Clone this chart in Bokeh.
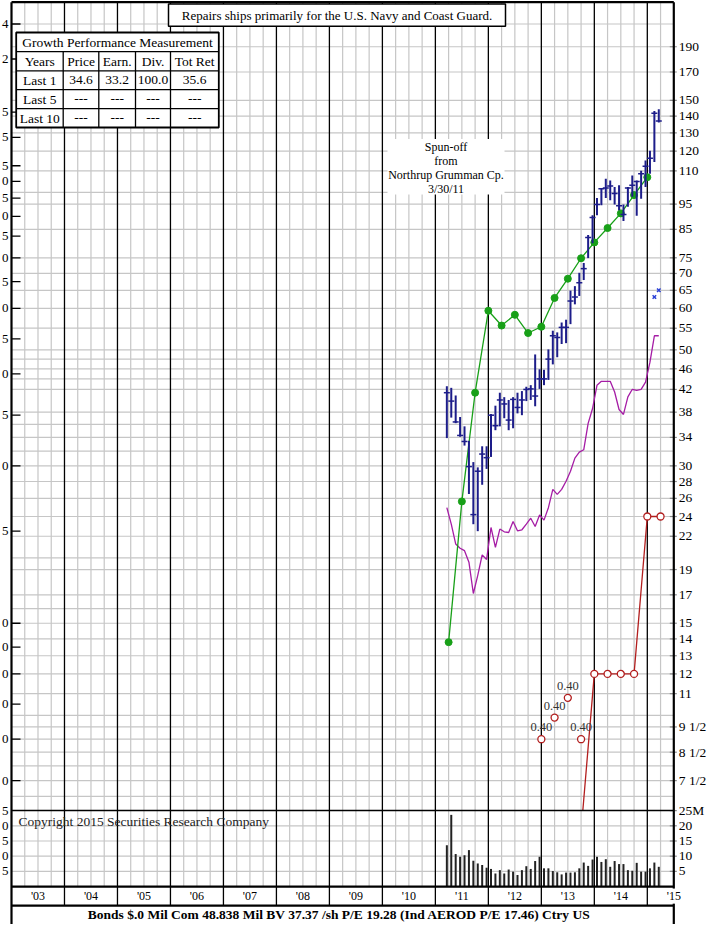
import numpy as np
from bokeh.plotting import figure
from bokeh.models import Range1d, LinearScale
from bokeh.core.properties import value
from bokeh.embed import file_html
from bokeh.resources import INLINE

FONT = "Liberation Serif"

# ---------------- data ----------------
months = [f"{y}-{m:02d}" for y in range(2011, 2016) for m in range(1, 13)][3:52]   # 2011-04 .. 2015-04

bar_high = [42.6, 42.3, 40.9, 37.2, 35.7, 33.5, 30.5, 29.8, 32.7, 32.7, 37.7, 39.1, 41.4, 40.6, 40.1,
            40.6, 41.4, 41.7, 42.5, 42.8, 49.0, 45.9, 45.8, 50.1, 54.4, 54.0, 56.4, 57.1, 64.9, 66.2,
            70.2, 73.3, 82.9, 90.5, 97.6, 102.0, 106.2, 105.4, 102.4, 103.2, 94.8, 102.4, 107.8,
            105.4, 110.1, 115.1, 120.2, 143.1, 144.2]
bar_low = [33.9, 37.1, 36.2, 34.1, 32.8, 26.5, 23.2, 22.5, 27.6, 29.6, 31.2, 35.1, 35.7, 37.0, 35.1,
           35.4, 37.8, 37.5, 39.9, 40.1, 39.0, 42.1, 42.8, 43.8, 46.9, 48.4, 51.3, 51.5, 56.0, 61.1,
           63.4, 68.0, 74.9, 80.0, 90.5, 94.5, 97.6, 96.6, 94.8, 92.5, 88.2, 93.9, 98.1, 90.3, 97.3,
           102.4, 108.6, 114.3, 136.1]
bar_close = [41.4, 39.9, 36.4, 34.3, 33.4, 29.9, 24.2, 29.3, 31.6, 31.1, 37.5, 35.8, 40.1, 39.4, 36.7,
             40.2, 38.8, 40.1, 42.0, 42.1, 40.8, 44.0, 44.0, 48.0, 53.2, 52.8, 55.2, 55.2, 62.0, 63.1,
             67.2, 71.5, 82.0, 89.6, 94.8, 101.7, 102.0, 102.9, 99.5, 94.3, 90.8, 102.0, 103.2, 105.0,
             108.6, 112.3, 116.3, 141.7, 137.0]
rel_strength = [24.95, 23.21, 21.27, 20.87, 20.65, 19.63, 17.10, 18.52, 20.27, 19.86, 22.87, 20.95,
                22.71, 22.44, 22.37, 23.48, 22.54, 22.64, 23.21, 23.82, 22.97, 24.17, 23.62, 24.95,
                27.05, 26.45, 27.05, 28.04, 29.29, 31.04, 31.86, 32.20, 36.17, 38.62, 42.77, 43.53,
                43.53, 43.53, 41.53, 38.45, 37.62, 40.64, 42.03, 41.85, 42.03, 43.38, 47.35, 53.2, 53.2]
volume_m = [13.6, 23.6, 10.7, 9.8, 10.3, 12.0, 8.5, 7.6, 7.1, 6.2, 5.8, 4.3, 5.4, 4.3, 5.6, 4.9, 3.8,
            5.4, 6.7, 5.8, 8.4, 9.8, 6.0, 6.0, 5.1, 4.7, 4.0, 4.6, 4.6, 4.7, 6.0, 7.9, 6.8, 8.9, 9.8,
            8.1, 9.0, 6.5, 8.4, 7.4, 7.4, 5.4, 5.2, 7.8, 4.9, 4.9, 6.0, 7.9, 6.5]

eps_quarters = [f"{y}Q{q}" for y in range(2011, 2015) for q in range(1, 5)]
earnings = [0.92, 1.71, 2.76, 3.96, 3.71, 3.89, 3.59, 3.69, 4.19, 4.56, 4.99, 5.35, 5.70, 6.08, 6.59, 7.13]

div_x = [2013.75, 2014.0, 2014.25, 2014.5, 2014.75, 2015.0, 2015.25]
div_rate = [0.40, 0.80, 0.80, 0.80, 0.80, 1.60, 1.60]
div_note_x = [2013.0, 2013.25, 2013.5, 2013.75]
div_note_y = [0.60, 0.66, 0.72, 0.60]
div_note_text = ["0.40", "0.40", "0.40", "0.40"]

xmark_months = ["2015-03", "2015-04"]
xmark_vals = [63.1, 65.0]

right_ticks = [190, 170, 150, 140, 130, 120, 110, 95, 85, 75, 70, 65, 60, 55, 50, 46, 42, 38, 34, 30,
               28, 26, 24, 22, 19, 17, 15, 14, 13, 12, 11, 9.5, 8.5, 7.5]
right_labels = ["190", "170", "150", "140", "130", "120", "110", "95", "85", "75", "70", "65", "60",
                "55", "50", "46", "42", "38", "34", "30", "28", "26", "24", "22", "19", "17", "15",
                "14", "13", "12", "11", "9 1/2", "8 1/2", "7 1/2"]
price_grid = [7, 7.5, 8, 8.5, 9, 9.5, 10, 11, 12, 13, 14, 15, 16, 17, 19, 20, 22, 24, 26, 28, 30, 32,
              34, 36, 38, 42, 44, 46, 48, 50, 55, 60, 65, 70, 75, 85, 95, 100, 110, 120, 130, 140,
              150, 170, 190, 210]
left_ticks = [14, 12, 9.5, 8.5, 7.5, 7.0, 6.5, 6.0, 5.5, 5.0, 4.5, 4.0, 3.5, 3.0, 2.5, 2.0, 1.5, 1.0,
              0.9, 0.8, 0.7, 0.6, 0.5]
left_labels = ["14", "12", "9.5", "8.5", "7.5", "7.0", "6.5", "6.0", "5.5", "5.0", "4.5", "4.0", "3.5",
               "3.0", "2.5", "2.0", "1.5", "1.0", ".90", ".80", ".70", ".60", ".50"]
vol_ticks = [25, 20, 15, 10, 5]
vol_right_labels = ["25M", "20", "15", "10", "5"]
vol_left_labels = ["25", "20", "15", "10", "5"]
year_labels = ["'03", "'04", "'05", "'06", "'07", "'08", "'09", "'10", "'11", "'12", "'13", "'14"]

title_text = "Repairs ships primarily for the U.S. Navy and Coast Guard."
table_title = "Growth Performance Measurement"
table_rows = [["Years", "Price", "Earn.", "Div.", "Tot Ret"],
              ["Last 1", "34.6", "33.2", "100.0", "35.6"],
              ["Last 5", "---", "---", "---", "---"],
              ["Last 10", "---", "---", "---", "---"]]
note_lines = ["Spun-off", "from", "Northrup Grumman Cp.", "3/30/11"]
copyright_text = "Copyright 2015 Securities Research Company"
bottom_text = "Bonds  $.0 Mil Com 48.838 Mil BV 37.37 /sh  P/E 19.28 (Ind AEROD P/E 17.46) Ctry US"

# ---------------- layout (pixel positions, frame = whole canvas) ----------------
W, H = 711, 924
SY = 0.99
def ry(v): return v * SY

FL, FR = 11.0, 673.3                 # chart frame left / right (px)
FT = ry(1.7)                         # chart frame top
Y_BOUND, Y_VBASE, Y_STRIP = ry(818.3), ry(895), ry(914.3)
X0, X1 = 2003.0, 2015.5
ppy = (FR - FL) / (X1 - X0)
X_LEFT, X_RIGHT = X0 - FL / ppy, X1 + (W - FR) / ppy

# price log scale calibrated on two right-axis labels
P_A, Y_A, P_B, Y_B = 190.0, ry(46.7), 7.5, ry(788.0)
px_per_ln = (Y_B - Y_A) / np.log(P_A / P_B)
P_HI = P_A * np.exp(Y_A / px_per_ln)
P_LO = P_B * np.exp(-(H - Y_B) / px_per_ln)
px_per_vol = (Y_VBASE - Y_BOUND) / 25.0
EPS_RATIO = 15.0

NAVY, GREEN, MAGENTA, RED, BLUEX = "#1d1d8a", "#18a018", "#a51ca5", "#b21e1e", "#2a3fd6"
GRID = "#c6c6c6"

def mx(s):
    return int(s[:4]) + (int(s[5:]) - 1.4) / 12.0

month_x = [mx(s) for s in months]
eps_x = [int(q[:4]) + int(q[5]) / 4.0 for q in eps_quarters]
xmark_x = [mx(s) for s in xmark_months]

p = figure(width=W, height=H, x_range=Range1d(X_LEFT, X_RIGHT), y_range=Range1d(P_LO, P_HI),
           y_axis_type="log", x_axis_location=None, y_axis_location=None, title=None,
           output_backend="svg", toolbar_location=None,
           min_border_left=0, min_border_right=0, min_border_top=0, min_border_bottom=0)
p.outline_line_color = None
p.xgrid.visible = False
p.ygrid.visible = False
p.background_fill_color = "white"
p.border_fill_color = "white"
p.extra_x_ranges = {"px": Range1d(0, W)}
p.extra_y_ranges = {"eps": Range1d(P_LO / EPS_RATIO, P_HI / EPS_RATIO),
                    "vol": Range1d(-(H - Y_VBASE) / px_per_vol, Y_VBASE / px_per_vol),
                    "px": Range1d(H, 0)}
p.extra_y_scales = {"vol": LinearScale(), "px": LinearScale()}

def txt(x, y, t, size="13px", align="center", baseline="middle", color="black", style="normal", **kw):
    p.text(x=x, y=y, text=t, text_font=value(FONT), text_font_size=value(size), text_color=color,
           text_align=align, text_baseline=baseline, text_font_style=style, **kw)

# price-panel grid
qx = [float(x) for x in np.arange(X0 + 0.25, X1, 0.25) if x % 1 != 0]
yx = [float(x) for x in np.arange(2004, 2016)]
p.segment(x0=qx, x1=qx, y0=Y_BOUND, y1=FT, y_range_name="px", line_color=GRID, line_width=1.2)
p.segment(x0=X0, x1=X1, y0=price_grid, y1=price_grid, line_color=GRID, line_width=1.2)
p.segment(x0=yx, x1=yx, y0=Y_BOUND, y1=FT, y_range_name="px", line_color="black", line_width=1.3)
# left scale (earnings) ticks and labels, cut at the page edge as in the original
p.segment(x0=FL, x1=FL + 9, y0=left_ticks, y1=left_ticks, x_range_name="px", y_range_name="eps",
          line_color="black", line_width=1.3)
txt([FL - 3] * len(left_ticks), left_ticks, [s[-1] for s in left_labels], align="right",
    x_range_name="px", y_range_name="eps")
# right scale (price) ticks and labels
p.segment(x0=FR - 4, x1=FR + 3, y0=right_ticks, y1=right_ticks, x_range_name="px",
          line_color="#888888", line_width=1.2)
txt([FR + 5] * len(right_ticks), right_ticks, right_labels, size="13.5px", align="left",
    x_range_name="px")

# data series
p.line(month_x, rel_strength, line_color=MAGENTA, line_width=1.3)
p.line(eps_x, earnings, y_range_name="eps", line_color=GREEN, line_width=1.3)
p.scatter(eps_x, earnings, y_range_name="eps", marker="circle", size=7,
          fill_color=GREEN, line_color=GREEN)
p.segment(x0=month_x, x1=month_x, y0=bar_low, y1=bar_high, line_color=NAVY, line_width=2)
p.scatter(month_x, bar_close, marker="dash", size=6, line_color=NAVY, line_width=1.5)
p.line(div_x, div_rate, y_range_name="eps", line_color=RED, line_width=1.3)
p.scatter(div_x, div_rate, y_range_name="eps", marker="circle", size=7,
          fill_color="white", line_color=RED, line_width=1.3)
p.scatter(div_note_x, div_note_y, y_range_name="eps", marker="circle", size=7,
          fill_color="white", line_color=RED, line_width=1.3)
txt(div_note_x, div_note_y, div_note_text, size="12.5px", color="#333333", y_range_name="eps",
    y_offset=-12)
p.scatter(xmark_x, xmark_vals, marker="x", size=5, line_color=BLUEX, line_width=1.5)

# title box
p.quad(left=[168], right=[505], top=[ry(3.5)], bottom=[ry(26)],
       x_range_name="px", y_range_name="px", fill_color="white", line_color="black", line_width=1.5)
txt([336.5], [ry(15)], [title_text], x_range_name="px", y_range_name="px")

# growth table
TL, TR, TT, TB = 15.7, 218.3, 32.3, 128.3
row_lines = [51.7, 71.0, 90.0, 109.3]
col_lines = [62.7, 98.3, 135.0, 170.0]
p.quad(left=[TL], right=[TR], top=[ry(TT)], bottom=[ry(TB)],
       x_range_name="px", y_range_name="px", fill_color="white", line_color="black", line_width=1.8)
p.segment(x0=TL, x1=TR, y0=[ry(v) for v in row_lines], y1=[ry(v) for v in row_lines],
          x_range_name="px", y_range_name="px", line_color="black", line_width=1.3)
p.segment(x0=col_lines, x1=col_lines, y0=ry(row_lines[0]), y1=ry(TB),
          x_range_name="px", y_range_name="px", line_color="black", line_width=1.3)
txt([(TL + TR) / 2], [ry(42)], [table_title], size="13.5px", x_range_name="px", y_range_name="px")
edges = [TL] + col_lines + [TR]
col_c = [(edges[i] + edges[i + 1]) / 2 for i in range(5)]
row_c = [(a + b) / 2 for a, b in zip(row_lines, row_lines[1:] + [TB])]
tx, ty, tt = [], [], []
for r, row in enumerate(table_rows):
    for c, s in enumerate(row):
        tx.append(col_c[c]); ty.append(ry(row_c[r])); tt.append(s)
txt(tx, ty, tt, size="13.5px", x_range_name="px", y_range_name="px")

# spun-off note
p.quad(left=[387], right=[504], top=[ry(140)], bottom=[ry(196)],
       x_range_name="px", y_range_name="px", fill_color="white", line_color=None)
txt([445.5] * 4, [ry(148), ry(162), ry(176), ry(190)], note_lines, size="12px",
    x_range_name="px", y_range_name="px")

# volume panel (covers anything from the price panel that runs below it)
p.quad(left=[X0], right=[X1], top=[Y_BOUND], bottom=[Y_VBASE], y_range_name="px",
       fill_color="white", line_color=None)
p.segment(x0=qx, x1=qx, y0=Y_VBASE, y1=Y_BOUND, y_range_name="px", line_color=GRID, line_width=1.2)
p.segment(x0=X0, x1=X1, y0=vol_ticks[1:], y1=vol_ticks[1:], y_range_name="vol",
          line_color=GRID, line_width=1.2)
p.segment(x0=yx, x1=yx, y0=Y_STRIP, y1=Y_BOUND, y_range_name="px", line_color="black", line_width=1.3)
p.segment(x0=month_x, x1=month_x, y0=0, y1=volume_m, y_range_name="vol",
          line_color="#222222", line_width=2)
txt([18], [ry(829)], [copyright_text], size="13.5px", align="left", color="#222222",
    x_range_name="px", y_range_name="px")
p.segment(x0=FR - 4, x1=FR + 3, y0=vol_ticks, y1=vol_ticks, x_range_name="px", y_range_name="vol",
          line_color="#888888", line_width=1.2)
txt([FR + 5] * 5, vol_ticks, vol_right_labels, size="13.5px", align="left",
    x_range_name="px", y_range_name="vol")
txt([FL - 3] * 5, vol_ticks, [s[-1] for s in vol_left_labels], align="right",
    x_range_name="px", y_range_name="vol")

# panel separators and frame
p.segment(x0=X0, x1=X1, y0=[Y_BOUND, Y_VBASE, Y_STRIP], y1=[Y_BOUND, Y_VBASE, Y_STRIP],
          y_range_name="px", line_color="black", line_width=[1.5, 2.2, 2.2])
p.segment(x0=[X0, X1, X0], x1=[X0, X1, X1], y0=[H, H, FT], y1=[FT, FT, FT], y_range_name="px",
          line_color="black", line_width=2.2)

# year strip and bottom line of text
strip_mid = (Y_VBASE + Y_STRIP) / 2
txt([2003.5 + i for i in range(len(year_labels))], [strip_mid] * len(year_labels), year_labels,
    size="12px", y_range_name="px")
p.quad(left=[FR - 7], right=[FR + 7], top=[Y_VBASE + 2], bottom=[Y_STRIP - 2],
       x_range_name="px", y_range_name="px", fill_color="white", line_color=None)
txt([X1], [strip_mid], ["'15"], size="12px", y_range_name="px")
txt([(X0 + X1) / 2], [ry(923)], [bottom_text], size="13.5px", style="bold", y_range_name="px")

open("out.html", "w").write(file_html(p, INLINE))
